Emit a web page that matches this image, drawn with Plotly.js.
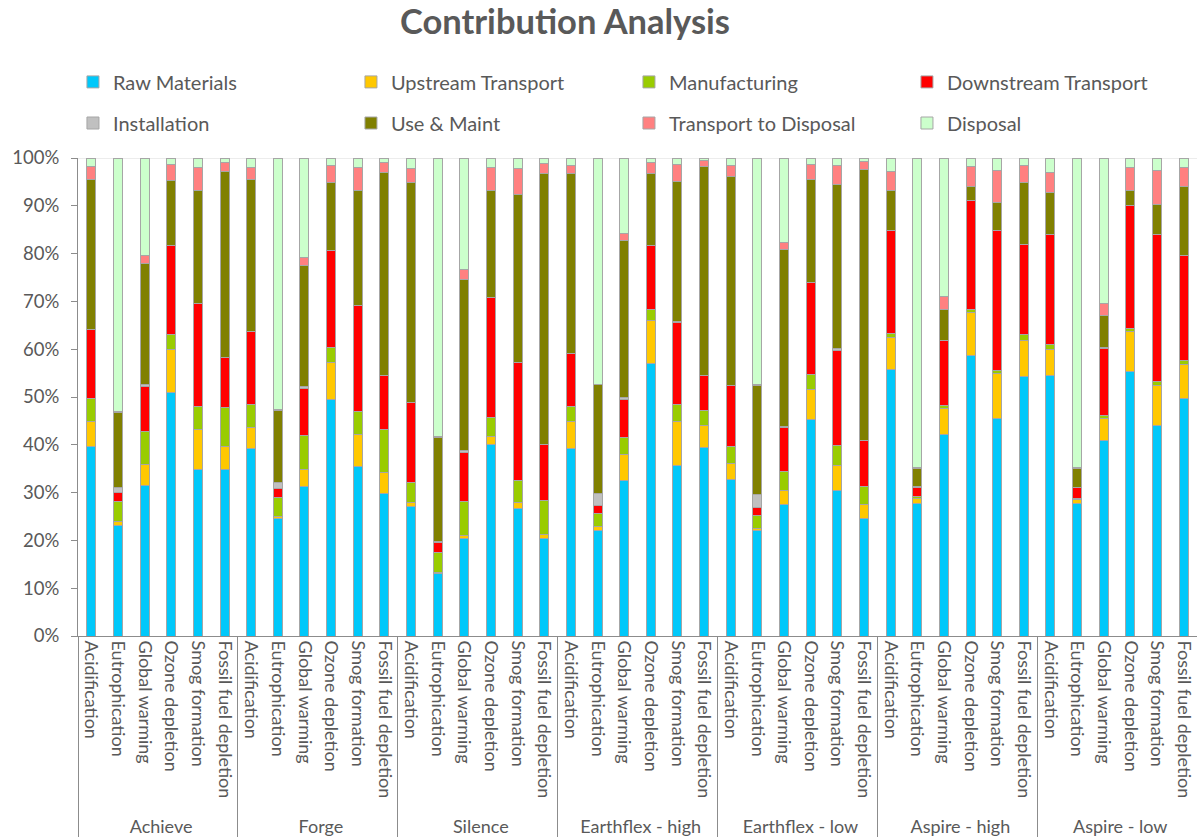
<!DOCTYPE html>
<html><head><meta charset="utf-8">
<script src="https://cdn.plot.ly/plotly-3.0.1.min.js"></script>
<style>html,body{margin:0;padding:0;background:#fff}#chart{width:1197px;height:838px}</style>
</head><body><div id="chart"></div>
<script>
const groups = ['Achieve','Forge','Silence','Earthflex - high','Earthflex - low','Aspire - high','Aspire - low'];
const impacts = ['Acidification','Eutrophication','Global warming','Ozone depletion','Smog formation','Fossil fuel depletion'];
const seriesNames = ['Raw Materials','Upstream Transport','Manufacturing','Downstream Transport','Installation','Use & Maint','Transport to Disposal','Disposal'];
const seriesColors = ['#00c8fa','#ffc800','#99cc00','#ff0000','#c0c0c0','#808000','#ff8080','#ccffcc'];

const rawMaterials = [39.6,23.2,31.5,51.0,34.9,34.9, 39.3,24.5,31.2,49.5,35.4,29.8, 27.1,13.1,20.4,40.1,26.7,20.4, 39.3,22.0,32.5,57.0,35.6,39.4, 32.8,22.0,27.5,45.3,30.4,24.5, 55.8,27.8,42.3,58.6,45.4,54.3, 54.4,27.8,41.0,55.4,44.1,49.6];
const upstreamTransport = [5.2,0.7,4.3,9.0,8.2,4.7, 4.4,0.5,3.7,7.8,6.7,4.4, 0.8,0.1,0.6,1.7,1.3,0.9, 5.5,1.0,5.4,9.0,9.2,4.7, 3.3,0.5,2.9,6.3,5.2,3.0, 6.6,1.0,5.3,9.0,9.6,7.6, 5.6,0.7,4.5,8.4,8.4,7.1];
const manufacturing = [4.9,4.3,6.9,3.0,4.9,8.2, 4.8,4.0,7.0,3.0,4.8,8.9, 4.2,4.3,7.1,3.9,4.6,7.0, 3.2,2.7,3.7,2.3,3.7,3.0, 3.5,2.8,4.1,3.2,4.2,3.7, 0.8,0.3,0.7,0.7,0.6,1.1, 0.9,0.3,0.7,0.6,0.8,1.0];
const downstreamTransport = [14.5,1.9,9.5,18.7,21.5,10.4, 15.2,1.8,9.8,20.3,22.2,11.4, 16.8,2.0,10.2,25.1,24.7,11.8, 11.1,1.7,7.9,13.5,17.1,7.4, 12.9,1.6,9.1,19.2,20.0,9.8, 21.7,2.0,13.5,22.8,29.3,19.0, 23.1,2.2,14.1,25.6,30.7,21.9];
const installation = [0,1.1,0.5,0,0,0, 0,1.3,0.6,0,0,0, 0,0.3,0.3,0,0,0, 0,2.4,0.3,0,0.3,0, 0,2.6,0.3,0,0.3,0, 0,0.1,0.1,0,0,0, 0,0.1,0.1,0,0,0];
const useMaint = [31.3,15.6,25.3,13.5,23.8,38.9, 31.7,15.0,25.2,14.3,24.1,42.4, 45.9,21.8,35.7,22.5,35.0,56.7, 37.7,22.8,33.0,15.0,29.1,43.7, 43.7,23.0,36.9,21.5,34.3,56.6, 8.4,3.9,6.4,2.9,5.8,12.9, 8.8,4.0,6.7,3.3,6.3,14.5];
const transportToDisposal = [2.7,0.3,1.7,3.5,4.7,2.0, 2.6,0.2,1.7,3.6,4.8,2.1, 3.0,0.1,2.2,4.7,5.5,2.1, 1.7,0.1,1.4,2.3,3.7,1.2, 2.3,0.1,1.6,3.2,4.1,1.6, 3.8,0.1,2.7,4.3,6.6,3.5, 4.1,0.1,2.6,4.7,7.0,3.9];
const disposal = [1.8,53.0,20.3,1.3,2.0,0.9, 2.0,52.7,20.8,1.5,2.0,1.0, 2.2,58.3,23.2,2.0,2.2,1.1, 1.5,47.4,15.8,0.9,1.3,0.6, 1.5,47.4,17.6,1.3,1.5,0.8, 2.9,64.8,29.1,1.7,2.7,1.6, 3.1,64.8,30.4,2.0,2.7,2.0];
const yTicks = [0,10,20,30,40,50,60,70,80,90,100];
const yTickText = ['0%','10%','20%','30%','40%','50%','60%','70%','80%','90%','100%'];

const allSeries = [rawMaterials,upstreamTransport,manufacturing,downstreamTransport,installation,useMaint,transportToDisposal,disposal];
const xOuter = [], xInner = [];
groups.forEach(g => impacts.forEach(c => { xOuter.push(g); xInner.push(c); }));

const FONT = 'Lato, "Open Sans", sans-serif';
const traces = allSeries.map((vals, i) => ({
  type: 'bar', name: seriesNames[i], x: [xOuter, xInner], y: vals,
  legend: i < 4 ? 'legend' : 'legend2',
  marker: {color: seriesColors[i], line: {color: '#a6a6a6', width: 1}}
}));

const legendCommon = {orientation: 'h', x: -0.0045, xanchor: 'left', yanchor: 'top', entrywidth: 233, entrywidthmode: 'pixels', font: {family: FONT, size: 20, color: '#595959'}, traceorder: 'normal', bgcolor: 'rgba(0,0,0,0)'};

const layout = {
  width: 1197, height: 838,
  margin: {l: 78, r: 0, t: 158, b: 202, autoexpand: false},
  paper_bgcolor: '#fff', plot_bgcolor: '#fff',
  barmode: 'stack', barnorm: 'percent', bargap: 0.66,
  font: {family: FONT, color: '#595959', size: 16},
  title: {text: '<b>Contribution Analysis</b>', x: 0.472, xref: 'container', xanchor: 'center', y: 0.974, yref: 'container', yanchor: 'middle', font: {family: FONT, size: 34.5, color: '#595959'}},
  showlegend: true,
  legend: Object.assign({}, legendCommon, {y: 1.2}),
  legend2: Object.assign({}, legendCommon, {y: 1.114}),
  xaxis: {type: 'multicategory', tickangle: 90, tickfont: {family: FONT, size: 18, color: '#595959'}, showline: true, linecolor: '#8c8c8c', linewidth: 1, ticks: '', showdividers: true, dividercolor: '#8c8c8c', dividerwidth: 1, showgrid: false, zeroline: false, automargin: false},
  yaxis: {range: [0, 100], tickmode: 'array', tickvals: yTicks, ticktext: yTickText, ticks: 'outside', ticklen: 6, tickcolor: '#8c8c8c', ticklabelstandoff: 8, showline: true, linecolor: '#8c8c8c', linewidth: 1, showgrid: false, zeroline: false, automargin: false, tickfont: {family: FONT, size: 18.5, color: '#595959'}},
  shapes: [{type: 'line', xref: 'paper', yref: 'y', x0: 0, x1: 1, y0: 100, y1: 100, line: {color: '#d9d9d9', width: 1}, layer: 'below'}]
};

Plotly.newPlot('chart', traces, layout, {displayModeBar: false, staticPlot: true});
</script>
</body></html>
